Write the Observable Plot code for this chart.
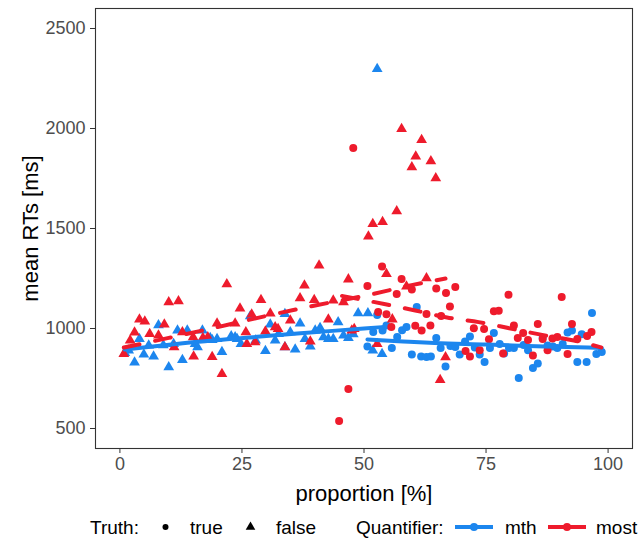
<!DOCTYPE html>
<html>
<head>
<meta charset="utf-8">
<script src="https://cdn.jsdelivr.net/npm/d3@7"></script>
<script src="https://cdn.jsdelivr.net/npm/@observablehq/plot@0.6"></script>
<style>
  body { margin: 0; background: #fff; font-family: "Liberation Sans", Arial, sans-serif; }
  #chart { width: 639px; }
  .legend { position: relative; width: 639px; height: 35px; font-size: 19px; color: #000; }
  .legend .lab { position: absolute; top: 22px; transform: translateY(-50%); line-height: 1; white-space: nowrap; }
  .legend svg { position: absolute; top: 10px; overflow: visible; }
</style>
</head>
<body>
<div id="chart"></div>
<div class="legend" id="legend"></div>
<script>
// Axis ticks and category levels
const xTicks = [0, 25, 50, 75, 100];
const yTicks = [500, 1000, 1500, 2000, 2500];
const quantifiers = ["mth", "most"];
const quantifierColors = ["#1C86EE", "#EE1B2C"];
const truthLevels = ["true", "false"];

// Mean RTs per proportion: "mth", false trials
const mthFalseProp = [1, 1.8, 3, 4, 4.9, 5.9, 6.9, 7.9, 8.9, 10, 11, 11.8, 12.8, 13.8, 15.4, 15.9, 16.9, 18.5, 18.9, 19.9, 20.9, 22.8, 23.6, 24, 24.8, 26.7, 27.8, 29.8, 30.8, 31.8, 32.5, 33.8, 33.8, 34.9, 35.9, 36.9, 37.9, 39, 40, 41, 41.7, 42.7, 43.7, 44.7, 45.8, 46.8, 47.8, 48.8, 50.8, 51.8, 52.7, 53.7];
const mthFalseRT = [878, 890, 830, 948, 870, 915, 860, 1017, 917, 807, 923, 990, 843, 990, 923, 907, 990, 953, 943, 948, 883, 962, 957, 948, 923, 1062, 940, 888, 1020, 940, 973, 1073, 907, 982, 895, 1025, 948, 910, 990, 1003, 957, 948, 948, 1032, 965, 953, 972, 1077, 1077, 890, 2298, 873];

// "mth", true trials
const mthTrueProp = [50.7, 51.9, 52.7, 53.8, 54.6, 55.7, 56.8, 57.8, 58.7, 59.8, 60.8, 61.7, 62.8, 63.7, 64.8, 65.7, 66.7, 67.7, 68.7, 69.6, 70.7, 71.7, 72.7, 73.7, 74.7, 75.8, 76.6, 77.8, 78.7, 79.7, 80.7, 81.7, 82.7, 83.6, 84.6, 85.6, 86.6, 87.6, 88.7, 89.6, 90.7, 91.7, 92.6, 93.7, 94.6, 95.6, 96.7, 97.6, 98.7];
const mthTrueRT = [910, 982, 1067, 990, 1015, 903, 957, 991, 1008, 870, 1108, 860, 857, 860, 953, 903, 810, 912, 907, 870, 935, 960, 905, 870, 832, 903, 977, 923, 875, 903, 903, 753, 917, 891, 803, 825, 952, 915, 910, 903, 923, 980, 990, 832, 971, 832, 1077, 873, 882];

// "most", false trials
const mostFalseProp = [0.8, 2.1, 3, 4, 5.1, 6.1, 7.9, 9.1, 10, 11.1, 12, 12.8, 15, 15.1, 17, 18, 18.9, 19.9, 20.9, 21.9, 23.6, 24.6, 25.8, 26, 27, 27.7, 28.9, 29.8, 30.8, 31.8, 32.4, 33.8, 34.9, 36.9, 37.8, 39, 39.8, 40.8, 42.7, 43.7, 45.8, 46.8, 47.5, 48, 50.9, 51.8, 52.7, 53.8, 54.6, 55.8, 56.7, 57.7, 58.7, 59.8, 60.6, 61.8, 62.8, 63.7, 64.7, 65.6, 66.7];
const mostFalseRT = [873, 940, 980, 1045, 1035, 973, 965, 1020, 1132, 907, 1137, 982, 957, 860, 953, 957, 858, 1025, 773, 1222, 1025, 1100, 982, 923, 1070, 932, 1143, 985, 1075, 1007, 998, 907, 1040, 1152, 1215, 935, 1143, 1315, 1045, 1140, 1132, 1246, 990, 998, 1460, 1523, 923, 1533, 1273, 1046, 1587, 1998, 1210, 1807, 1860, 1943, 1252, 1837, 1752, 743, 857];

// "most", true trials
const mostTrueProp = [44.9, 46.8, 47.8, 50.7, 52.9, 53.7, 54.6, 55.6, 56.7, 57.7, 59.8, 60.5, 61.8, 62.8, 63.6, 64.8, 65.8, 66.8, 67.6, 68.7, 70.8, 71.7, 72.5, 73.7, 74.6, 75.6, 76.6, 77.6, 78.5, 79.6, 80.7, 81.5, 82.6, 83.6, 84.6, 85.6, 86.6, 87.6, 88.6, 89.6, 90.5, 91.7, 92.6, 93.7, 95.7, 96.6];
const mostTrueRT = [537, 698, 1903, 1212, 1082, 1310, 1071, 1008, 1173, 1248, 1195, 1014, 990, 1073, 1015, 1200, 1062, 1177, 1110, 1208, 888, 860, 1001, 891, 998, 946, 1086, 1089, 875, 1169, 1015, 953, 977, 943, 865, 1023, 948, 891, 950, 958, 1158, 873, 1023, 948, 962, 982];

// Smoothed trend per quantifier and truth value
const mthFalseFitProp = [1, 12, 24, 37, 50, 53.7];
const mthFalseFitRT = [895, 924, 950, 976, 1000, 1007];
const mthTrueFitProp = [50.7, 58, 64.5, 75, 87, 98.7];
const mthTrueFitRT = [945, 935, 927, 920, 910, 903];
const mostFalseFitProp = [0.8, 10, 20, 30, 40, 50, 60, 66.7];
const mostFalseFitRT = [905, 953, 1007, 1063, 1115, 1163, 1218, 1250];
const mostTrueFitProp = [45.5, 54.4, 60.5, 67, 73.5, 80, 86.5, 93, 98.6];
const mostTrueFitRT = [1163, 1121, 1090, 1055, 1032, 1000, 968, 940, 905];

function rows(quantifier, truth, props, rts) {
  return props.map((p, i) => ({quantifier, truth, proportion: p, rt: rts[i]}));
}

const points = [
  ...rows("mth", "false", mthFalseProp, mthFalseRT),
  ...rows("mth", "true", mthTrueProp, mthTrueRT),
  ...rows("most", "false", mostFalseProp, mostFalseRT),
  ...rows("most", "true", mostTrueProp, mostTrueRT)
];

const mthFits = [
  ...rows("mth", "false", mthFalseFitProp, mthFalseFitRT),
  ...rows("mth", "true", mthTrueFitProp, mthTrueFitRT)
];
const mostFits = [
  ...rows("most", "false", mostFalseFitProp, mostFalseFitRT),
  ...rows("most", "true", mostTrueFitProp, mostTrueFitRT)
];

const chart = Plot.plot({
  width: 639,
  height: 505,
  marginLeft: 95,
  marginRight: 7,
  marginTop: 8,
  marginBottom: 57,
  style: {fontFamily: "Liberation Sans, Arial, sans-serif", background: "#fff"},
  x: {domain: [-5, 105]},
  y: {domain: [400, 2600]},
  color: {domain: quantifiers, range: quantifierColors},
  symbol: {domain: truthLevels, range: ["circle", "triangle"]},
  marks: [
    Plot.dot(points, {x: "proportion", y: "rt", fill: "quantifier", symbol: "truth", r: 4}),
    Plot.line(mthFits, {x: "proportion", y: "rt", z: "truth", stroke: "quantifier", strokeWidth: 4, curve: "monotone-x"}),
    Plot.line(mostFits, {x: "proportion", y: "rt", z: "truth", stroke: "quantifier", strokeWidth: 4, strokeDasharray: "16,16", curve: "monotone-x"}),
    Plot.frame({stroke: "#333", strokeWidth: 1.1}),
    Plot.axisX({ticks: xTicks, tickSize: 5, tickPadding: 4, fontSize: 18, fill: "#4d4d4d", stroke: "#333", label: null}),
    Plot.axisY({ticks: yTicks, tickFormat: d3.format("d"), tickSize: 5, tickPadding: 5, fontSize: 18, fill: "#4d4d4d", stroke: "#333", label: null}),
    Plot.text(["proportion [%]"], {frameAnchor: "bottom", dy: 45, lineAnchor: "middle", textAnchor: "middle", fontSize: 22, fill: "#000"}),
    Plot.text(["mean RTs [ms]"], {frameAnchor: "left", dx: -65, rotate: -90, lineAnchor: "middle", textAnchor: "middle", fontSize: 22, fill: "#000"})
  ]
});
document.getElementById("chart").append(chart);

// Legend below the plot: Truth (shape) and Quantifier (colour)
const legend = document.getElementById("legend");
function label(text, left) {
  const s = document.createElement("span");
  s.className = "lab";
  s.textContent = text;
  s.style.left = left + "px";
  legend.append(s);
}
function key(left, width, draw) {
  const svg = d3.create("svg").attr("width", width).attr("height", 24).style("left", left + "px");
  draw(svg);
  legend.append(svg.node());
}
label("Truth:", 90);
key(157, 17, svg => svg.append("circle").attr("cx", 8.5).attr("cy", 12).attr("r", 3).attr("fill", "#000"));
label(truthLevels[0], 190);
key(242, 17, svg => svg.append("path").attr("transform", "translate(8.5,12)").attr("d", d3.symbol(d3.symbolTriangle, 40)()).attr("fill", "#000"));
label(truthLevels[1], 276);
label("Quantifier:", 356);
quantifiers.forEach((q, i) => {
  const left = [455, 548][i];
  key(left, 38, svg => {
    svg.append("line").attr("x1", 0).attr("x2", 38).attr("y1", 12).attr("y2", 12).attr("stroke", quantifierColors[i]).attr("stroke-width", 4);
    svg.append("circle").attr("cx", 19).attr("cy", 12).attr("r", 4).attr("fill", quantifierColors[i]);
  });
  label(q, [505, 596][i]);
});
</script>
</body>
</html>
